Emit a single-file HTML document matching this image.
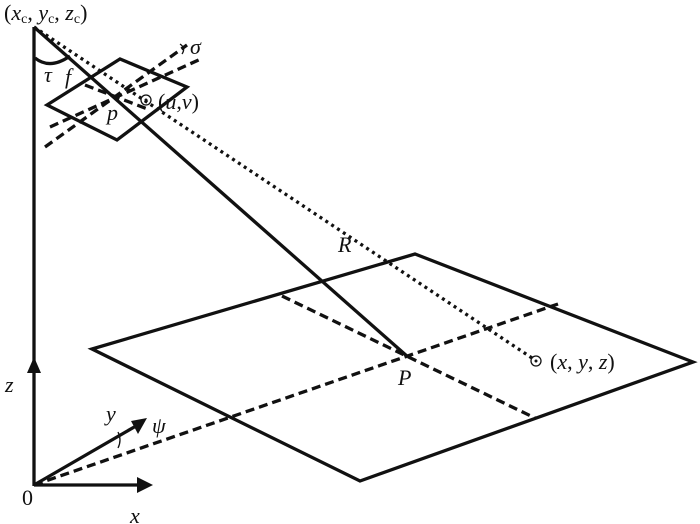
<!DOCTYPE html>
<html><head><style>body{margin:0;background:#fff}svg{display:block}text{font-family:"Liberation Serif","Times New Roman","DejaVu Serif",serif;font-size:22px;fill:#111}</style></head><body>
<svg width="700" height="524" viewBox="0 0 700 524" xmlns="http://www.w3.org/2000/svg">
<g stroke="#111" fill="none" stroke-width="3.3">
<line x1="34" y1="27" x2="34" y2="486"/>
<line x1="34" y1="485" x2="140" y2="485"/>
<line x1="34" y1="485" x2="136" y2="426"/>
<polygon points="92,349 415,254 693,362 360,481"/>
<line x1="34" y1="27" x2="408" y2="357"/>
<polygon points="47,105 120,59 187,87 117,140"/>
<path d="M35,58 Q50,70 70,56"/>
</g>
<g fill="#111">
<polygon points="34,357 27,373 41,373"/>
<polygon points="153,485 137,477 137,493"/>
<polygon points="147,418 131,421 138,434"/>
</g>
<g stroke="#111" fill="none" stroke-width="3.3" stroke-dasharray="9,5">
<line x1="34" y1="485" x2="558" y2="304"/>
<line x1="282" y1="296" x2="535" y2="418"/>
<line x1="45" y1="147" x2="187" y2="45"/>
<line x1="50" y1="127" x2="203" y2="58"/>
<line x1="85" y1="85" x2="150" y2="110"/>
</g>
<g stroke="#111" fill="none" stroke-width="3.3" stroke-dasharray="3,4">
<line x1="34" y1="27" x2="535" y2="360"/>
</g>
<g stroke="#111" fill="none" stroke-width="1.3">
<circle cx="146" cy="100" r="5"/>
<circle cx="536" cy="361" r="5"/>
<path d="M118,448 Q122,440 118,432"/>
<path d="M180,44 Q186,48 182,54"/>
</g>
<circle cx="146" cy="100" r="1.5" fill="#111"/>
<circle cx="536" cy="361" r="1.5" fill="#111"/>
<text x="4" y="20">(<tspan font-style="italic">x</tspan><tspan font-size="14" dy="3">c</tspan><tspan dy="-3">, </tspan><tspan font-style="italic">y</tspan><tspan font-size="14" dy="3">c</tspan><tspan dy="-3">, </tspan><tspan font-style="italic">z</tspan><tspan font-size="14" dy="3">c</tspan><tspan dy="-3">)</tspan></text>
<text x="44" y="82" font-style="italic">τ</text>
<text x="65" y="84" font-style="italic">f</text>
<text x="107" y="120" font-style="italic">p</text>
<text x="158" y="109">(<tspan font-style="italic">u</tspan>,<tspan font-style="italic">v</tspan>)</text>
<text x="190" y="54" font-style="italic">σ</text>
<text x="338" y="252" font-style="italic">R</text>
<text x="398" y="385" font-style="italic">P</text>
<text x="550" y="369">(<tspan font-style="italic">x</tspan>, <tspan font-style="italic">y</tspan>, <tspan font-style="italic">z</tspan>)</text>
<text x="5" y="392" font-style="italic">z</text>
<text x="106" y="421" font-style="italic">y</text>
<text x="152" y="433" font-style="italic">ψ</text>
<text x="22" y="505">0</text>
<text x="130" y="523" font-style="italic">x</text>
</svg>
</body></html>
